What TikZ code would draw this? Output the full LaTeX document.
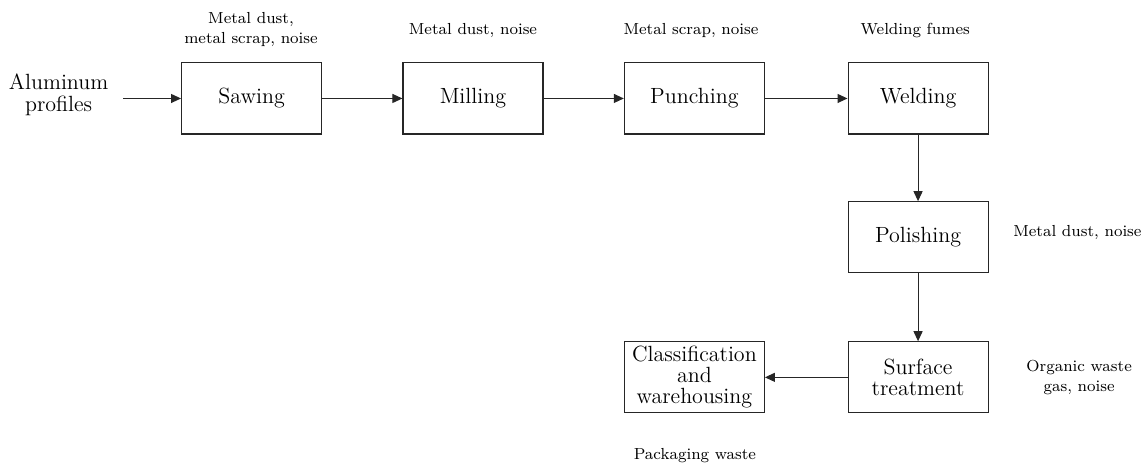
\documentclass[tikz,border=0pt]{standalone}
\usetikzlibrary{arrows.meta}
\tikzset{
  stagebox/.style={draw=black!85,line width=0.55pt,align=center,
    minimum width=2.46cm,minimum height=1.25cm,inner sep=1pt,
    font=\fontsize{11}{10.5}\selectfont},
  wastenote/.style={align=center,inner sep=1pt,font=\fontsize{8}{10}\selectfont},
  flow/.style={-{Triangle[length=5pt,width=4.5pt]},line width=0.55pt,draw=black!85}
}

\begin{document}
\begin{tikzpicture}[x=1cm,y=1cm]
\path[use as bounding box] (0,-8.17) rectangle (20.10,0);
% main line
\node[align=center,font=\fontsize{11}{11}\selectfont] (input) at (1.03,-1.66) {Aluminum\\profiles};
\node[stagebox] (sawing) at (4.42,-1.73) {Sawing};
\node[stagebox] (milling) at (8.31,-1.73) {Milling};
\node[stagebox] (punching) at (12.20,-1.73) {Punching};
\node[stagebox] (welding) at (16.13,-1.73) {Welding};
\node[stagebox] (polishing) at (16.13,-4.17) {Polishing};
\node[stagebox] (surface) at (16.13,-6.63) {Surface\\treatment};
\node[stagebox] (storage) at (12.20,-6.63) {Classification\\and\\warehousing};
% emissions
\node[wastenote] (sawnote) at (4.41,-0.51) {Metal dust,\\metal scrap, noise};
\node[wastenote] (millnote) at (8.31,-0.53) {Metal dust, noise};
\node[wastenote] (punchnote) at (12.14,-0.53) {Metal scrap, noise};
\node[wastenote] (weldnote) at (16.08,-0.53) {Welding fumes};
\node[wastenote] (polishnote) at (18.93,-4.08) {Metal dust, noise};
\node[wastenote] (surfnote) at (18.96,-6.64) {Organic waste\\gas, noise};
\node[wastenote] (packnote) at (12.21,-8.01) {Packaging waste};
% arrows
\draw[flow,shorten <=4pt] (input.east |- sawing.west) -- (sawing.west);
\draw[flow] (sawing) -- (milling);
\draw[flow] (milling) -- (punching);
\draw[flow] (punching) -- (welding);
\draw[flow] (welding) -- (polishing);
\draw[flow] (polishing) -- (surface);
\draw[flow] (surface) -- (storage);
\end{tikzpicture}
\end{document}
